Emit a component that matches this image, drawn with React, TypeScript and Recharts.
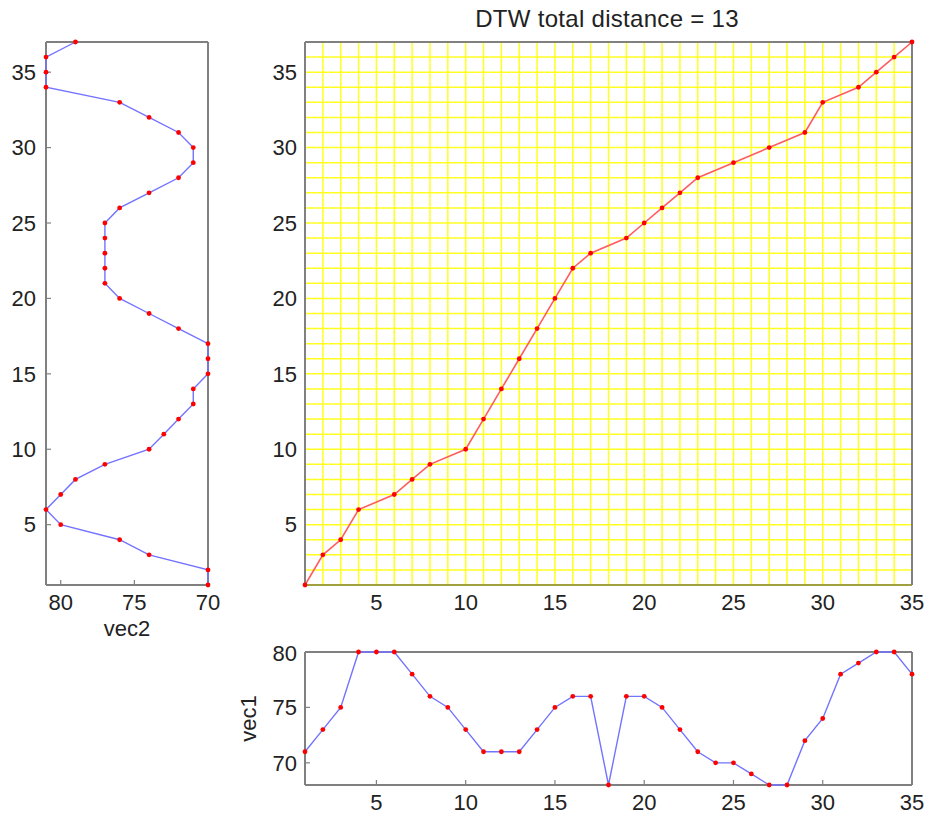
import React from 'react';
import {
  ScatterChart,
  Scatter,
  XAxis,
  YAxis,
  CartesianGrid,
} from 'recharts';

// vec1 sampled at 1..35, vec2 sampled at 1..37
const VEC1 = [
  71, 73, 75, 80, 80, 80, 78, 76, 75, 73, 71, 71, 71, 73, 75, 76, 76, 68,
  76, 76, 75, 73, 71, 70, 70, 69, 68, 68, 72, 74, 78, 79, 80, 80, 78,
];
const VEC2 = [
  70, 70, 74, 76, 80, 81, 80, 79, 77, 74, 73, 72, 71, 71, 70, 70, 70, 72,
  74, 76, 77, 77, 77, 77, 77, 76, 74, 72, 71, 71, 72, 74, 76, 81, 81, 81, 79,
];

// warping path (index in vec1, index in vec2)
const PATH_I = [1, 2, 3, 4, 6, 7, 8, 10, 11, 12, 13, 14, 15, 16, 17, 19, 20, 21, 22, 23, 25, 27, 29, 30, 32, 33, 34, 35];
const PATH_J = [1, 3, 4, 6, 7, 8, 9, 10, 12, 14, 16, 18, 20, 22, 23, 24, 25, 26, 27, 28, 29, 30, 31, 33, 34, 35, 36, 37];

const TICKS_5 = [5, 10, 15, 20, 25, 30, 35];
const VEC_TICKS = [70, 75, 80];
const TITLE = 'DTW total distance = 13';

const allInts = (n: number) => Array.from({ length: n }, (_, k) => k + 1);
const GRID_X = allInts(VEC1.length);
const GRID_Y = allInts(VEC2.length);

const vec1Data = VEC1.map((v, k) => ({ x: k + 1, y: v }));
const vec2Data = VEC2.map((v, k) => ({ x: v, y: k + 1 }));
const pathData = PATH_I.map((i, k) => ({ x: i, y: PATH_J[k] }));

const FONT = '"Liberation Sans", Arial, Helvetica, sans-serif';
const TICK = { fontSize: 22, fill: '#222', fontFamily: FONT };
const BOX = { stroke: '#808080', strokeWidth: 2 };
const TL = { stroke: '#808080', strokeWidth: 1.2 };
const BLUE = '#7373ff';

const RedDot = (props: any) => (
  <circle cx={props.cx} cy={props.cy} r={2.4} fill="#ff0000" />
);

const only5 = (v: number) => (v % 5 === 0 ? String(v) : '');

const App: React.FC = () => {
  return (
    <div style={{ position: 'absolute', left: 0, top: 0, width: 929, height: 819, background: '#fff', fontFamily: FONT }}>
      <div
        style={{
          position: 'absolute',
          left: 307,
          width: 600,
          top: 5,
          textAlign: 'center',
          fontSize: 24,
          letterSpacing: 0.3,
          color: '#222',
        }}
      >
        {TITLE}
      </div>

      {/* left panel: vec2 drawn vertically */}
      <div style={{ position: 'absolute', left: 0, top: 30 }}>
        <ScatterChart width={230} height={620} margin={{ top: 11, right: 21, bottom: 5, left: 0 }}>
          <XAxis
            xAxisId="b"
            type="number"
            dataKey="x"
            domain={[70, 81]}
            reversed
            ticks={VEC_TICKS}
            tick={TICK}
            tickLine={TL}
            tickSize={-5}
            tickMargin={14}
            axisLine={BOX}
            height={60}
            label={{ value: 'vec2', position: 'insideBottom', offset: 9, fontSize: 22, fill: '#222' }}
          />
          <XAxis xAxisId="t" orientation="top" type="number" domain={[70, 81]} reversed ticks={VEC_TICKS} tick={false} tickLine={TL} tickSize={-5} axisLine={BOX} height={1} />
          <YAxis
            yAxisId="l"
            type="number"
            dataKey="y"
            domain={[1, 37]}
            ticks={TICKS_5}
            tick={TICK}
            tickLine={TL}
            tickSize={-5}
            tickMargin={15}
            axisLine={BOX}
            width={46}
          />
          <YAxis yAxisId="r" orientation="right" type="number" domain={[1, 37]} ticks={TICKS_5} tick={false} tickLine={TL} tickSize={-5} axisLine={BOX} width={1} />
          <Scatter
            xAxisId="b"
            yAxisId="l"
            data={vec2Data}
            line={{ stroke: BLUE, strokeWidth: 1.4 }}
            shape={RedDot}
            isAnimationActive={false}
          />
        </ScatterChart>
      </div>

      {/* main panel: warping path */}
      <div style={{ position: 'absolute', left: 240, top: 30 }}>
        <ScatterChart width={690} height={590} margin={{ top: 11, right: 17, bottom: 5, left: 0 }}>
          <CartesianGrid xAxisId="b" yAxisId="l" stroke="#ffff20" strokeWidth={1.5} />
          <XAxis
            xAxisId="b"
            type="number"
            dataKey="x"
            domain={[1, 35]}
            ticks={GRID_X}
            interval={0}
            tickFormatter={only5}
            tick={TICK}
            tickLine={false}
            tickSize={0}
            tickMargin={9}
            axisLine={{ stroke: '#a0a040', strokeWidth: 2 }}
            height={30}
          />
          <XAxis xAxisId="t" orientation="top" type="number" domain={[1, 35]} ticks={TICKS_5} tick={false} tickLine={false} axisLine={BOX} height={1} />
          <YAxis
            yAxisId="l"
            type="number"
            dataKey="y"
            domain={[1, 37]}
            ticks={GRID_Y}
            interval={0}
            tickFormatter={only5}
            tick={TICK}
            tickLine={false}
            tickSize={0}
            tickMargin={8}
            axisLine={BOX}
            width={65}
          />
          <YAxis yAxisId="r" orientation="right" type="number" domain={[1, 37]} ticks={TICKS_5} tick={false} tickLine={false} axisLine={BOX} width={1} />
          <Scatter
            xAxisId="b"
            yAxisId="l"
            data={pathData}
            line={{ stroke: '#ff5c5c', strokeWidth: 1.6 }}
            shape={RedDot}
            isAnimationActive={false}
          />
        </ScatterChart>
      </div>

      {/* bottom panel: vec1 */}
      <div style={{ position: 'absolute', left: 220, top: 640 }}>
        <ScatterChart width={710} height={179} margin={{ top: 11, right: 17, bottom: 4, left: 0 }}>
          <XAxis
            xAxisId="b"
            type="number"
            dataKey="x"
            domain={[1, 35]}
            ticks={TICKS_5}
            tick={TICK}
            tickLine={TL}
            tickSize={-5}
            tickMargin={14}
            axisLine={BOX}
            height={30}
          />
          <XAxis xAxisId="t" orientation="top" type="number" domain={[1, 35]} ticks={TICKS_5} tick={false} tickLine={TL} tickSize={-5} axisLine={BOX} height={1} />
          <YAxis
            yAxisId="l"
            type="number"
            dataKey="y"
            domain={[68, 80]}
            ticks={VEC_TICKS}
            tick={TICK}
            tickLine={TL}
            tickSize={-5}
            tickMargin={13}
            axisLine={BOX}
            width={85}
            label={{ value: 'vec1', angle: -90, position: 'center', dx: -14, fontSize: 22, fill: '#222' }}
          />
          <YAxis yAxisId="r" orientation="right" type="number" domain={[68, 80]} ticks={VEC_TICKS} tick={false} tickLine={TL} tickSize={-5} axisLine={BOX} width={1} />
          <Scatter
            xAxisId="b"
            yAxisId="l"
            data={vec1Data}
            line={{ stroke: BLUE, strokeWidth: 1.4 }}
            shape={RedDot}
            isAnimationActive={false}
          />
        </ScatterChart>
      </div>
    </div>
  );
};

export default App;
